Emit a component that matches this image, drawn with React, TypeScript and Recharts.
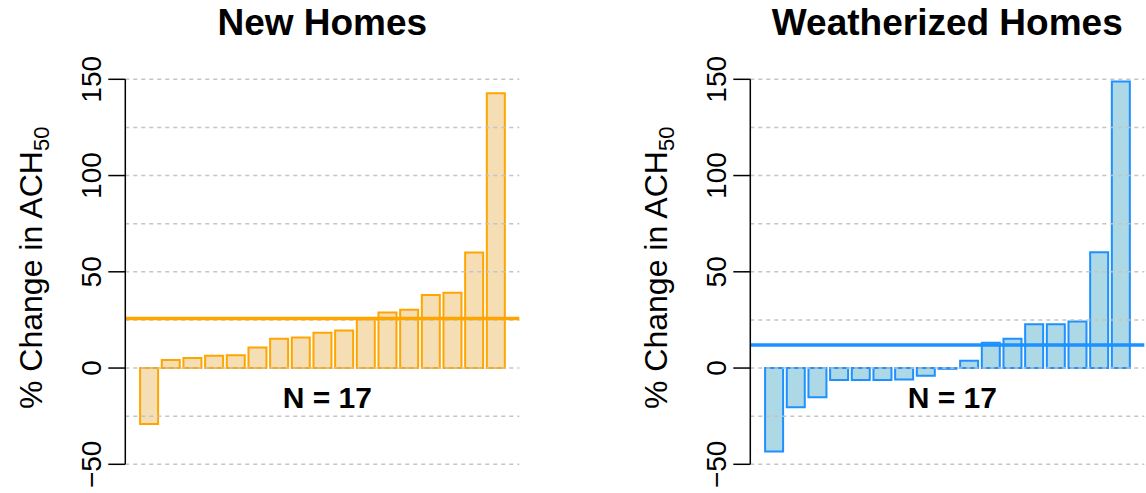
import { BarChart, Bar, XAxis, YAxis, ReferenceLine, Label } from "recharts";

// one bar per home, sorted by change
const homeIds = ["1", "2", "3", "4", "5", "6", "7", "8", "9", "10", "11", "12", "13", "14", "15", "16", "17"];
const newHomesChange = [-29, 4.2, 5.2, 6.4, 6.6, 10.7, 15.2, 15.9, 18.3, 19.5, 25.3, 28.9, 30.3, 37.9, 39.1, 60, 142.7];
const weatherizedChange = [-43.4, -20.4, -15.2, -6.2, -6.2, -6.2, -5.9, -4.0, -0.4, 3.8, 13.1, 15.2, 22.7, 22.7, 24.2, 60.2, 148.8];
const yTicks = [-50, 0, 50, 100, 150];
const gridValues = [-50, -25, 0, 25, 50, 75, 100, 125, 150];
const sampleLabel = "N = 17";

const FONT = "'Liberation Sans', Arial, Helvetica, sans-serif";

function RotTick(props: any) {
  const { x, y, payload } = props;
  const tx = x - 5;
  const v = payload.value;
  // R draws a real minus sign
  const txt = v < 0 ? `\u2212${Math.abs(v)}` : `${v}`;
  return (
    <text
      x={tx}
      y={y}
      transform={`rotate(-90, ${tx}, ${y})`}
      textAnchor="middle"
      fontSize={28}
      fontFamily={FONT}
      fill="#000"
    >
      {txt}
    </text>
  );
}

function AxisTitle(props: any) {
  const vb = props.viewBox;
  const x = vb.x - 23;
  const y = vb.y + vb.height / 2 - 4;
  return (
    <text
      x={x}
      y={y}
      transform={`rotate(-90, ${x}, ${y})`}
      textAnchor="middle"
      fontSize={32}
      fontFamily={FONT}
      fill="#000"
    >
      % Change in ACH
      <tspan fontSize={22} dy={7}>50</tspan>
    </text>
  );
}

type PanelProps = {
  title: string;
  values: number[];
  fill: string;
  stroke: string;
  left: number;
};

function Panel({ title, values, fill, stroke, left }: PanelProps) {
  const data = homeIds.map((id, i) => ({ id, value: values[i] }));
  const mean = values.reduce((s, v) => s + v, 0) / values.length;
  return (
    <div style={{ position: "absolute", left, top: 0, width: 521, height: 493 }}>
      <div
        style={{
          position: "absolute",
          left: 125.3,
          width: 394,
          top: 4,
          textAlign: "center",
          fontFamily: FONT,
          fontWeight: "bold",
          fontSize: 37,
          lineHeight: "37px",
          whiteSpace: "nowrap",
        }}
      >
        {title}
      </div>
      <BarChart
        width={521}
        height={493}
        data={data}
        margin={{ top: 79.3, bottom: 28.7, left: 65.3, right: 1.7 }}
      >
        <XAxis dataKey="id" hide padding={{ left: 12.8, right: 12.8 }} />
        <YAxis
          width={60}
          domain={[-50, 150]}
          ticks={yTicks}
          interval={0}
          tickSize={17}
          tick={<RotTick />}
          axisLine={{ stroke: "#000", strokeWidth: 1.5 }}
          tickLine={{ stroke: "#000", strokeWidth: 1.5 }}
          label={{ content: (p: any) => <AxisTitle {...p} /> }}
        />
        {gridValues.map((g) => (
          <ReferenceLine key={g} y={g} stroke="#C4C4C4" strokeWidth={1.5} strokeDasharray="4 4" />
        ))}
        <Bar dataKey="value" fill={fill} stroke={stroke} strokeWidth={2} barSize={18} isAnimationActive={false} />
        <ReferenceLine y={mean} stroke={stroke} strokeWidth={3.5} />
        <ReferenceLine y={-15} stroke="none">
          <Label value={sampleLabel} position="center" dx={5} fontSize={30} fontWeight="bold" fill="#000" fontFamily={FONT} />
        </ReferenceLine>
      </BarChart>
    </div>
  );
}

export default function App() {
  return (
    <div style={{ position: "absolute", left: 0, top: 0, width: 1146, height: 493, background: "#fff" }}>
      <Panel title="New Homes" values={newHomesChange} fill="#F5DEB3" stroke="#FFA500" left={0} />
      <Panel title="Weatherized Homes" values={weatherizedChange} fill="#ADD8E6" stroke="#1E90FF" left={625} />
    </div>
  );
}
